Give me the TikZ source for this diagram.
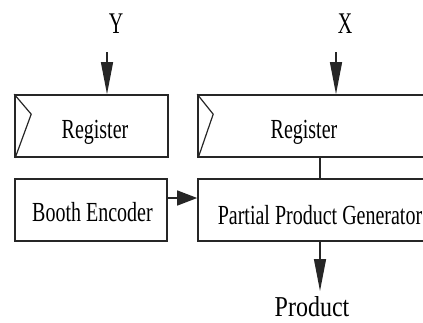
\documentclass[tikz,border=0pt]{standalone}
\usepackage{fontspec}
\setmainfont{Liberation Serif}
\usetikzlibrary{arrows.meta}
\tikzset{
  blk/.style={draw=black!85, line width=1.6pt, rectangle, inner sep=0pt},
  lbl/.style={anchor=base, inner sep=0pt, font=\fontsize{20}{24}\selectfont},
  conn/.style={draw=black!85, line width=1.3pt},
  vtip/.style={-{Triangle[length=32pt,width=12pt]}},
  htip/.style={-{Triangle[length=20pt,width=15pt]}},
}
\begin{document}
\begin{tikzpicture}[x=1pt,y=-1pt]
\useasboundingbox (0,0) rectangle (423,322);
\clip (0,0) rectangle (423,322);
% boxes
\node[blk, minimum width=153pt, minimum height=62pt] (regL) at (91.5,126) {};
\node[blk, minimum width=242pt, minimum height=62pt] (regR) at (319,126) {};
\node[blk, minimum width=152pt, minimum height=62pt] (booth) at (91,210) {};
\node[blk, minimum width=242pt, minimum height=62pt] (ppg) at (319,210) {};
% chevrons
\draw[conn, line width=1.2pt] (regL.north west) -- ([xshift=17pt,yshift=-20pt]regL.north west) -- ([xshift=1pt]regL.south west);
\draw[conn, line width=1.2pt] (regR.north west) -- ([xshift=16pt,yshift=-20pt]regR.north west) -- ([xshift=1pt]regR.south west);
% labels
\node[lbl] (tRegL) at (95,138) {\scalebox{1}[1.38]{Register}};
\node[lbl] (tRegR) at (304,138) {\scalebox{1}[1.38]{Register}};
\node[lbl] (tBooth) at (92.5,221) {\scalebox{1}[1.38]{Booth Encoder}};
\node[lbl] (tPPG) at (320,224) {\scalebox{1}[1.38]{Partial Product Generator}};
\node[lbl] (Y) at (116,33) {\scalebox{1}[1.5]{Y}};
\node[lbl] (X) at (345,33) {\scalebox{1}[1.5]{X}};
\node[lbl, font=\fontsize{24}{28}\selectfont] (prod) at (312,316) {\scalebox{1}[1.2]{Product}};
% connector end points
\coordinate (yStart) at (107,52);
\coordinate (xStart) at (336,52);
\coordinate (pEnd) at (320,291);
% connectors
\draw[conn, vtip] (yStart) -- (yStart |- regL.north);
\draw[conn, vtip] (xStart) -- (xStart |- regR.north);
\draw[conn] (320,157) coordinate (rb) -- (rb |- ppg.north);
\draw[conn, htip] (booth.east |- 0,198) -- (ppg.west |- 0,198);
\draw[conn, vtip] (pEnd |- ppg.south) -- (pEnd);
\end{tikzpicture}
\end{document}
